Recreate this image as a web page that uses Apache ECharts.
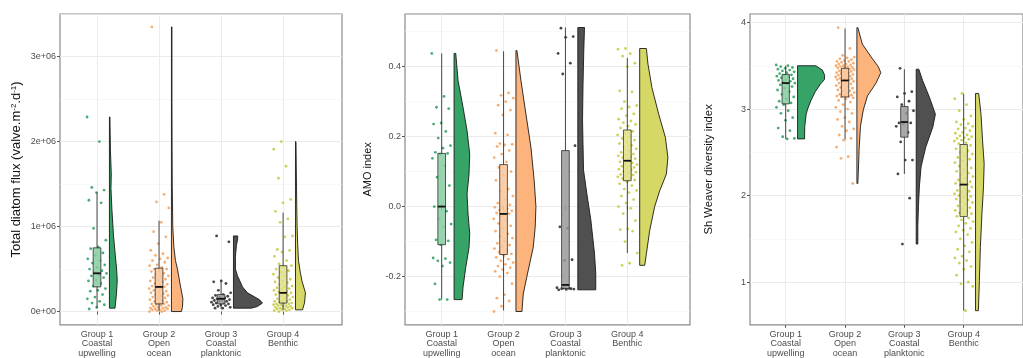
<!DOCTYPE html>
<html><head><meta charset="utf-8">
<script src="https://cdn.jsdelivr.net/npm/echarts@6/dist/echarts.min.js"></script>
<style>html,body{margin:0;padding:0;background:#fff}#c{width:1023px;height:358px}</style>
</head><body><div id="c"></div>
<script>
// ---------------- DATA ----------------
const categories = ['Group 1\nCoastal\nupwelling', 'Group 2\nOpen\nocean', 'Group 3\nCoastal\nplanktonic', 'Group 4\nBenthic'];
const categoryPositions = [1, 2, 3, 4];

// Panel 1 : Total diatom flux (valve.m-2.d-1)
const fluxTicks = [0, 1e6, 2e6, 3e6];
const fluxTickLabels = ['0e+00', '1e+06', '2e+06', '3e+06'];
const fluxMinorTicks = [0.5e6, 1.5e6, 2.5e6, 3.5e6];
const fluxG1 = [2.29e6,2.0e6,1.46e6,1.43e6,1.40e6,1.31e6,1.28e6,0.98e6,0.84e6,0.76e6,0.74e6,0.69e6,0.66e6,0.62e6,0.6e6,0.57e6,0.55e6,0.52e6,0.5e6,0.48e6,0.46e6,0.45e6,0.43e6,0.42e6,0.4e6,0.37e6,0.36e6,0.33e6,0.3e6,0.27e6,0.25e6,0.24e6,0.2e6,0.17e6,0.15e6,0.12e6,0.1e6,0.08e6,0.05e6,0.03e6];
const fluxG2 = [3.35e6,1.38e6,1.29e6,1.22e6,1.05e6,0.94e6,0.88e6,0.8e6,0.72e6,0.68e6,0.66e6,0.63e6,0.62e6,0.6e6,0.58e6,0.55e6,0.54e6,0.52e6,0.5e6,0.5e6,0.48e6,0.47e6,0.45e6,0.44e6,0.42e6,0.41e6,0.4e6,0.38e6,0.37e6,0.36e6,0.35e6,0.33e6,0.32e6,0.31e6,0.3e6,0.29e6,0.28e6,0.27e6,0.26e6,0.25e6,0.24e6,0.23e6,0.22e6,0.21e6,0.2e6,0.19e6,0.18e6,0.17e6,0.16e6,0.15e6,0.14e6,0.13e6,0.12e6,0.11e6,0.1e6,0.09e6,0.09e6,0.08e6,0.07e6,0.07e6,0.06e6,0.05e6,0.05e6,0.04e6,0.04e6,0.03e6,0.03e6,0.02e6,0.02e6,0.01e6,0.01e6,0.0,0.0];
const fluxG3 = [0.89e6,0.82e6,0.36e6,0.35e6,0.33e6,0.25e6,0.22e6,0.2e6,0.19e6,0.18e6,0.17e6,0.16e6,0.16e6,0.15e6,0.14e6,0.14e6,0.13e6,0.12e6,0.12e6,0.11e6,0.1e6,0.1e6,0.09e6,0.08e6,0.08e6,0.07e6,0.06e6,0.05e6,0.04e6,0.04e6];
const fluxG4 = [2.0e6,1.91e6,1.71e6,1.57e6,1.32e6,1.28e6,1.18e6,1.09e6,1.05e6,0.89e6,0.88e6,0.73e6,0.72e6,0.7e6,0.65e6,0.6e6,0.56e6,0.54e6,0.52e6,0.5e6,0.48e6,0.46e6,0.44e6,0.42e6,0.4e6,0.38e6,0.36e6,0.35e6,0.34e6,0.32e6,0.3e6,0.29e6,0.28e6,0.27e6,0.26e6,0.25e6,0.24e6,0.23e6,0.22e6,0.21e6,0.2e6,0.19e6,0.18e6,0.17e6,0.16e6,0.15e6,0.14e6,0.13e6,0.12e6,0.12e6,0.11e6,0.1e6,0.1e6,0.09e6,0.09e6,0.08e6,0.08e6,0.07e6,0.07e6,0.06e6,0.06e6,0.05e6,0.05e6,0.04e6,0.04e6,0.03e6,0.03e6,0.02e6,0.02e6,0.01e6,0.01e6,0.0];
// box stats: [lower whisker, Q1, median, Q3, upper whisker]
const fluxBoxes = [[0.04e6,0.29e6,0.45e6,0.75e6,1.40e6],[0.01e6,0.09e6,0.29e6,0.51e6,1.07e6],[0.03e6,0.09e6,0.15e6,0.20e6,0.36e6],[0.02e6,0.10e6,0.22e6,0.54e6,1.165e6]];
// half-violin profiles: [value, half-width (category units)]
const fluxViolinG1 = [[2.29e6,0.008],[1.9e6,0.016],[1.62e6,0.03],[1.45e6,0.025],[1.2e6,0.04],[0.9e6,0.065],[0.7e6,0.09],[0.5e6,0.116],[0.37e6,0.126],[0.2e6,0.113],[0.04e6,0.09]];
const fluxViolinG2 = [[3.35e6,0.008],[2.5e6,0.008],[2.0e6,0.01],[1.5e6,0.013],[1.0e6,0.021],[0.75e6,0.04],[0.6e6,0.065],[0.5e6,0.097],[0.3e6,0.145],[0.15e6,0.185],[0.05e6,0.177],[0,0.161]];
const fluxViolinG3 = [[0.89e6,0.069],[0.84e6,0.065],[0.78e6,0.048],[0.65e6,0.032],[0.5e6,0.032],[0.42e6,0.065],[0.37e6,0.097],[0.29e6,0.145],[0.22e6,0.226],[0.14e6,0.42],[0.1e6,0.468],[0.06e6,0.387],[0.04e6,0.29]];
const fluxViolinG4 = [[2.0e6,0.008],[1.7e6,0.013],[1.3e6,0.019],[1.0e6,0.026],[0.8e6,0.035],[0.6e6,0.048],[0.45e6,0.08],[0.35e6,0.108],[0.22e6,0.161],[0.1e6,0.145],[0.02e6,0.113]];

// Panel 2 : AMO index
const amoTicks = [-0.2, 0, 0.2, 0.4];
const amoTickLabels = ['-0.2', '0.0', '0.2', '0.4'];
const amoMinorTicks = [-0.3, -0.1, 0.1, 0.3, 0.5];
const amoG1 = [0.438,0.315,0.284,0.28,0.239,0.236,0.215,0.196,0.174,0.167,0.155,0.152,0.15,0.138,0.117,0.084,0.06,0.003,0.0,-0.013,-0.035,-0.05,-0.058,-0.095,-0.098,-0.109,-0.147,-0.149,-0.155,-0.16,-0.17,-0.221,-0.266,-0.266];
const amoG2 = [0.446,0.325,0.318,0.31,0.30,0.29,0.276,0.262,0.21,0.205,0.18,0.178,0.176,0.172,0.16,0.15,0.14,0.128,0.112,0.1,0.09,0.075,0.05,0.045,0.03,0.02,0.01,0.005,0.0,-0.002,-0.006,-0.01,-0.012,-0.015,-0.018,-0.02,-0.028,-0.035,-0.04,-0.048,-0.055,-0.062,-0.07,-0.078,-0.085,-0.09,-0.098,-0.105,-0.11,-0.115,-0.12,-0.125,-0.13,-0.135,-0.14,-0.145,-0.15,-0.155,-0.16,-0.165,-0.17,-0.175,-0.18,-0.185,-0.19,-0.2,-0.22,-0.252,-0.262,-0.27,-0.285,-0.3];
const amoG3 = [0.51,0.486,0.484,0.438,0.41,0.379,0.174,-0.062,-0.058,-0.152,-0.154,-0.232,-0.234,-0.235,-0.236,-0.237,-0.238,-0.235,-0.233];
const amoG4 = [0.452,0.45,0.437,0.43,0.41,0.40,0.331,0.328,0.30,0.289,0.285,0.28,0.265,0.26,0.25,0.245,0.24,0.235,0.23,0.225,0.215,0.21,0.205,0.2,0.195,0.19,0.185,0.18,0.175,0.17,0.165,0.16,0.155,0.15,0.148,0.145,0.142,0.14,0.137,0.133,0.128,0.125,0.122,0.12,0.117,0.115,0.112,0.11,0.107,0.105,0.1,0.098,0.095,0.092,0.09,0.088,0.085,0.082,0.08,0.076,0.07,0.065,0.06,0.05,0.046,0.04,0.03,0.02,0.01,0.0,-0.005,-0.02,-0.04,-0.064,-0.066,-0.07,-0.1,-0.133,-0.162,-0.168];
const amoBoxes = [[-0.266,-0.109,0.0,0.152,0.438],[-0.297,-0.137,-0.021,0.12,0.444],[-0.238,-0.234,-0.224,0.16,0.512],[-0.133,0.074,0.131,0.219,0.425]];
const amoViolinG1 = [[0.438,0.027],[0.36,0.065],[0.284,0.145],[0.217,0.21],[0.15,0.253],[0.093,0.242],[0.036,0.21],[-0.021,0.226],[-0.078,0.253],[-0.117,0.242],[-0.174,0.189],[-0.23,0.145],[-0.266,0.129]];
const amoViolinG2 = [[0.446,0.016],[0.36,0.081],[0.265,0.161],[0.17,0.242],[0.074,0.295],[0,0.323],[-0.06,0.311],[-0.117,0.279],[-0.19,0.189],[-0.25,0.118],[-0.3,0.097]];
const amoViolinG3 = [[0.512,0.108],[0.45,0.097],[0.35,0.084],[0.248,0.076],[0.105,0.092],[0.038,0.145],[-0.038,0.21],[-0.133,0.269],[-0.19,0.29],[-0.238,0.29]];
const amoViolinG4 = [[0.452,0.108],[0.407,0.134],[0.34,0.198],[0.265,0.306],[0.198,0.415],[0.14,0.456],[0.093,0.431],[0.045,0.323],[0,0.242],[-0.069,0.161],[-0.135,0.108],[-0.168,0.081]];

// Panel 3 : Shannon-Weaver diversity index
const shTicks = [1, 2, 3, 4];
const shTickLabels = ['1', '2', '3', '4'];
const shMinorTicks = [0.5, 1.5, 2.5, 3.5];
const shG1 = [3.51,3.5,3.49,3.48,3.47,3.46,3.45,3.44,3.43,3.42,3.41,3.395,3.39,3.38,3.37,3.36,3.35,3.34,3.33,3.32,3.31,3.30,3.29,3.28,3.26,3.24,3.22,3.2,3.17,3.14,3.12,3.09,3.07,3.05,3.02,2.98,2.95,2.9,2.87,2.78,2.75,2.68,2.66,2.655];
const shG2 = [3.94,3.7,3.62,3.6,3.59,3.58,3.57,3.56,3.55,3.55,3.54,3.53,3.52,3.52,3.51,3.5,3.5,3.49,3.49,3.48,3.48,3.475,3.465,3.46,3.455,3.45,3.44,3.435,3.43,3.42,3.415,3.41,3.4,3.395,3.39,3.38,3.375,3.37,3.36,3.355,3.35,3.345,3.34,3.335,3.325,3.32,3.31,3.3,3.29,3.28,3.27,3.26,3.25,3.24,3.23,3.22,3.21,3.2,3.19,3.18,3.17,3.16,3.155,3.15,3.145,3.14,3.13,3.12,3.1,3.08,3.05,3.02,3.0,2.97,2.95,2.9,2.88,2.85,2.8,2.77,2.75,2.7,2.66,2.64,2.56,2.45,2.43,2.14];
const shG3 = [3.47,3.2,3.18,3.14,3.09,3.05,2.98,2.95,2.84,2.84,2.83,2.8,2.73,2.62,2.41,2.41,2.25,1.97,1.44];
const shG4 = [3.18,3.12,3.05,2.98,2.92,2.88,2.85,2.83,2.82,2.8,2.78,2.77,2.75,2.73,2.72,2.7,2.69,2.68,2.67,2.66,2.65,2.64,2.63,2.61,2.6,2.58,2.56,2.54,2.52,2.5,2.48,2.46,2.44,2.42,2.4,2.38,2.36,2.34,2.32,2.3,2.28,2.26,2.24,2.22,2.2,2.18,2.16,2.15,2.14,2.13,2.12,2.1,2.08,2.06,2.05,2.04,2.02,2.01,2.0,1.99,1.98,1.96,1.95,1.93,1.92,1.9,1.88,1.86,1.85,1.83,1.82,1.8,1.79,1.78,1.76,1.74,1.72,1.7,1.68,1.65,1.62,1.6,1.58,1.55,1.5,1.46,1.42,1.38,1.35,1.3,1.28,1.25,1.22,1.18,1.15,1.08,1.0,0.98,0.95,0.67];
const shBoxes = [[2.655,3.06,3.30,3.40,3.50],[2.65,3.14,3.33,3.47,3.93],[2.25,2.675,2.85,3.03,3.46],[0.672,1.757,2.127,2.59,3.175]];
const shViolinG1 = [[3.5,0.306],[3.45,0.419],[3.39,0.456],[3.34,0.452],[3.29,0.387],[3.2,0.298],[3.1,0.226],[3.0,0.169],[2.94,0.145],[2.8,0.121],[2.655,0.118]];
const shViolinG2 = [[3.94,0.016],[3.75,0.092],[3.6,0.242],[3.49,0.36],[3.42,0.403],[3.3,0.323],[3.15,0.177],[2.99,0.108],[2.8,0.06],[2.53,0.037],[2.33,0.027],[2.14,0.016]];
const shViolinG3 = [[3.46,0.044],[3.33,0.108],[3.13,0.226],[2.94,0.323],[2.79,0.279],[2.56,0.161],[2.33,0.081],[2.1,0.053],[1.87,0.037],[1.64,0.027],[1.44,0.027]];
const shViolinG4 = [[3.18,0.053],[2.94,0.092],[2.64,0.118],[2.37,0.145],[2.1,0.134],[1.79,0.108],[1.4,0.081],[1.02,0.065],[0.67,0.048]];

// ---------------- STYLE ----------------
const violinColors = ['#36a467', '#fdb47c', '#505050', '#d6d865'];
const boxColors = ['#86cc9f', '#fcc699', '#9a9a9a', '#e0e186'];
const pointColors = ['#2b9e5d', '#f6a05a', '#262626', '#c5c942'];
const FONT = '"Liberation Sans", Arial, Helvetica, sans-serif';
const VIOLIN_OFFSET = 0.2, BOX_HALF = 0.062, JITTER = 0.32;

const panels = [
  {points:[fluxG1,fluxG2,fluxG3,fluxG4], boxes:fluxBoxes, violins:[fluxViolinG1,fluxViolinG2,fluxViolinG3,fluxViolinG4],
   ticks:fluxTicks, tickLabels:fluxTickLabels, minor:fluxMinorTicks, ymin:-0.156e6, ymax:3.502e6, xmin:0.403, xmax:4.95,
   grid:{left:60, top:14, width:282, height:311}, name:'Total diatom flux (valve.m{sup|-2}.d{sup|-1})', nameGap:37, nameSize:13},
  {points:[amoG1,amoG2,amoG3,amoG4], boxes:amoBoxes, violins:[amoViolinG1,amoViolinG2,amoViolinG3,amoViolinG4],
   ticks:amoTicks, tickLabels:amoTickLabels, minor:amoMinorTicks, ymin:-0.338, ymax:0.5506, xmin:0.407, xmax:5.013,
   grid:{left:405, top:14, width:285, height:311}, name:'AMO index', nameGap:32, nameSize:11},
  {points:[shG1,shG2,shG3,shG4], boxes:shBoxes, violins:[shViolinG1,shViolinG2,shViolinG3,shViolinG4],
   ticks:shTicks, tickLabels:shTickLabels, minor:shMinorTicks, ymin:0.507, ymax:4.098, xmin:0.398, xmax:5.0,
   grid:{left:750, top:14, width:285, height:311}, name:'Sh Weaver diversity index', nameGap:36, nameSize:11.3}
];

function jitter(i, g) {
  const f = (i * 0.6180339887 + g * 0.137) % 1;
  return (f - 0.5) * JITTER;
}

const grids = [], xAxes = [], yAxes = [], series = [];
panels.forEach((p, pi) => {
  grids.push(Object.assign({show:true, backgroundColor:'#fff', borderColor:'#8a8a8a', borderWidth:1.2, containLabel:false}, p.grid));
  xAxes.push({
    type:'value', gridIndex:pi, min:p.xmin, max:p.xmax,
    axisLine:{show:false},
    axisTick:{show:true, customValues:categoryPositions, length:3, lineStyle:{color:'#555', width:1}},
    axisLabel:{customValues:categoryPositions, formatter:v => categories[Math.round(v) - 1] || '',
      fontSize:9, lineHeight:9.4, color:'#4d4d4d', fontFamily:FONT, margin:5},
    splitLine:{show:true, lineStyle:{color:'#ebebeb', width:1}}
  });
  yAxes.push({
    type:'value', gridIndex:pi, min:p.ymin, max:p.ymax, position:'left',
    axisLine:{show:false},
    axisTick:{show:true, customValues:p.ticks, length:3, lineStyle:{color:'#555', width:1}},
    axisLabel:{customValues:p.ticks, fontSize:9, color:'#4d4d4d', fontFamily:FONT, margin:4,
      formatter:v => { let k = 0, d = Infinity; p.ticks.forEach((t,j)=>{ if (Math.abs(t-v) < d) {d = Math.abs(t-v); k = j;} }); return p.tickLabels[k]; }},
    splitLine:{show:true, lineStyle:{color:'#ebebeb', width:1}},
    name:p.name, nameLocation:'middle', nameRotate:90, nameGap:p.nameGap,
    nameTextStyle:{fontSize:p.nameSize, color:'#111', fontFamily:FONT,
      rich:{sup:{fontSize:8, verticalAlign:'top', fontFamily:FONT, color:'#111', padding:[0,0,5,0]}}}
  });
  yAxes.push({
    type:'value', gridIndex:pi, min:p.ymin, max:p.ymax, position:'left',
    axisLine:{show:false}, axisLabel:{show:false},
    axisTick:{show:false, customValues:p.minor},
    splitLine:{show:true, lineStyle:{color:'#f3f3f3', width:0.6}}
  });
  const yIdx = pi * 2;
  // half violins
  series.push({
    type:'custom', xAxisIndex:pi, yAxisIndex:yIdx, silent:true, z:2,
    data: categoryPositions.map((c, g) => [c, g]),
    renderItem: (params, api) => {
      const c = api.value(0), g = api.value(1);
      const prof = p.violins[g];
      const x0 = c + VIOLIN_OFFSET;
      const pts = [];
      pts.push(api.coord([x0, prof[prof.length - 1][0]]));
      for (let k = prof.length - 1; k >= 0; k--) pts.push(api.coord([x0 + prof[k][1], prof[k][0]]));
      pts.push(api.coord([x0, prof[0][0]]));
      return {type:'polygon', shape:{points:pts}, style:{fill:violinColors[g], stroke:'#1a1a1a', lineWidth:0.9}};
    }
  });
  // jittered points
  p.points.forEach((vals, g) => {
    series.push({
      type:'scatter', xAxisIndex:pi, yAxisIndex:yIdx, silent:true, z:3,
      symbolSize:2.8, itemStyle:{color:pointColors[g], opacity:0.85},
      data: vals.map((v, i) => [categoryPositions[g] + jitter(i, g), v])
    });
  });
  // boxplots
  series.push({
    type:'custom', xAxisIndex:pi, yAxisIndex:yIdx, silent:true, z:4,
    data: p.boxes.map((b, g) => [categoryPositions[g], b[0], b[1], b[2], b[3], b[4], g]),
    renderItem: (params, api) => {
      const c = api.value(0), g = api.value(6);
      const lo = api.coord([c, api.value(1)]), q1 = api.coord([c, api.value(2)]), md = api.value(3),
            q3 = api.coord([c, api.value(4)]), hi = api.coord([c, api.value(5)]);
      const l = api.coord([c - BOX_HALF, md]), r = api.coord([c + BOX_HALF, md]);
      const lineStyle = {stroke:'#333', lineWidth:0.9};
      return {type:'group', children:[
        {type:'line', shape:{x1:lo[0], y1:lo[1], x2:q1[0], y2:q1[1]}, style:lineStyle},
        {type:'line', shape:{x1:q3[0], y1:q3[1], x2:hi[0], y2:hi[1]}, style:lineStyle},
        {type:'rect', shape:{x:l[0], y:q3[1], width:r[0]-l[0], height:q1[1]-q3[1]},
          style:{fill:boxColors[g], opacity:0.85, stroke:'#262626', lineWidth:0.9}},
        {type:'line', shape:{x1:l[0], y1:l[1], x2:r[0], y2:r[1]}, style:{stroke:'#111', lineWidth:1.8}}
      ]};
    }
  });
});

const chart = echarts.init(document.getElementById('c'), null, {renderer:'canvas'});
chart.setOption({animation:false, backgroundColor:'#fff', textStyle:{fontFamily:FONT}, grid:grids, xAxis:xAxes, yAxis:yAxes, series:series});
</script></body></html>
